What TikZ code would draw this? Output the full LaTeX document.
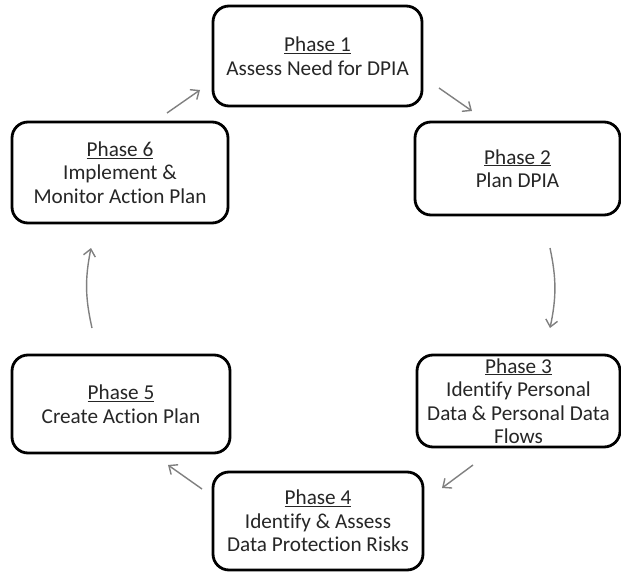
\documentclass[tikz,border=0pt]{standalone}
\usepackage{fontspec}
\setmainfont{Carlito}[Ligatures=NoCommon]
\usetikzlibrary{arrows.meta}
\begin{document}
\begin{tikzpicture}[x=1pt,y=-1pt,
  phasebox/.style={draw=black, line width=2.8pt, rounded corners=16pt, fill=white,
    align=center, inner sep=0pt, text=black!85, font=\fontsize{21.2}{23.5}\selectfont},
  flow/.style={draw=black!50, line width=1.4pt, -{Straight Barb[length=7pt,width=12pt]}}]
\useasboundingbox[fill=white] (0,0) rectangle (621,575);
\node[phasebox, minimum width=209pt, minimum height=100pt] (p1) at (317.5,56) {\underline{Phase 1}\\Assess Need for DPIA};
\node[phasebox, minimum width=205pt, minimum height=93pt] (p2) at (517.5,168.5) {\underline{Phase 2}\\Plan DPIA};
\node[phasebox, minimum width=203pt, minimum height=92pt] (p3) at (518.5,401) {\underline{Phase 3}\\Identify Personal\\Data \& Personal Data\\Flows};
\node[phasebox, minimum width=210pt, minimum height=98pt] (p4) at (318,521) {\underline{Phase 4}\\Identify \& Assess\\Data Protection Risks};
\node[phasebox, minimum width=218pt, minimum height=98pt] (p5) at (121,404) {\underline{Phase 5}\\Create Action Plan};
\node[phasebox, minimum width=216pt, minimum height=101pt] (p6) at (120,172.5) {\underline{Phase 6}\\Implement \&\\Monitor Action Plan};
\coordinate (a12s) at (439,88); \coordinate (a12e) at (472,111);
\coordinate (a23s) at (550,248); \coordinate (a23e) at (550,328);
\coordinate (a34s) at (473,465); \coordinate (a34e) at (442,488);
\coordinate (a45s) at (202,489); \coordinate (a45e) at (168,465);
\coordinate (a56s) at (92,328); \coordinate (a56e) at (91,248);
\coordinate (a61s) at (167,113); \coordinate (a61e) at (200,90);
\draw[flow] (a12s) -- (a12e);
\draw[flow] (a23s) to[bend left=12] (a23e);
\draw[flow] (a34s) -- (a34e);
\draw[flow] (a45s) -- (a45e);
\draw[flow] (a56s) to[bend left=12] (a56e);
\draw[flow] (a61s) -- (a61e);
\end{tikzpicture}
\end{document}
